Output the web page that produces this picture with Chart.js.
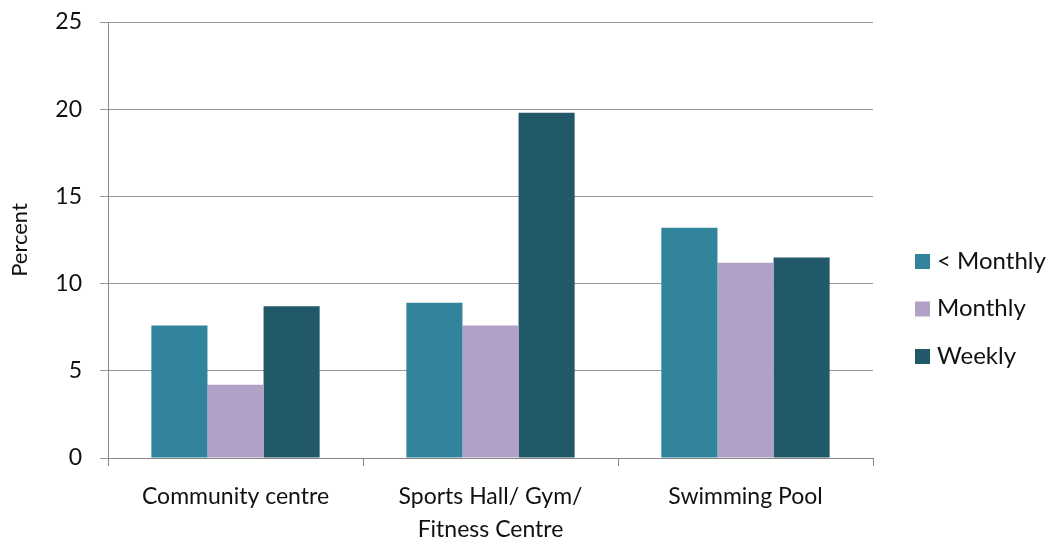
<!DOCTYPE html>
<html>
<head>
<meta charset="utf-8">
<script src="https://cdn.jsdelivr.net/npm/chart.js@4"></script>
<style>
  html, body { margin: 0; padding: 0; background: #fff; }
  #wrap { width: 1052px; height: 540px; }
</style>
</head>
<body>
<div id="wrap"><canvas id="chart1"></canvas></div>
<script>
const categories = ['Community centre', ['Sports Hall/ Gym/', 'Fitness Centre'], 'Swimming Pool'];
const lessMonthly = [7.6, 8.9, 13.2];
const monthly = [4.2, 7.6, 11.2];
const weekly = [8.7, 19.8, 11.5];
const yTicks = [0, 5, 10, 15, 20, 25];

const font = 'Lato, "Liberation Sans", sans-serif';

// legend drawn on the right, like the original
const sideLegend = {
    id: 'sideLegend',
    afterDraw(chart) {
        const c = chart.ctx;
        c.save();
        c.font = '24px ' + font;
        c.textBaseline = 'middle';
        chart.data.datasets.forEach((ds, i) => {
            const y = 261 + i * 47.5;
            c.fillStyle = ds.backgroundColor;
            c.fillRect(915, y - 7, 15, 15);
            c.fillStyle = '#111';
            c.fillText(ds.label, 937, y);
        });
        c.restore();
    }
};

const ctx1 = document.getElementById('chart1').getContext('2d');
const chart1 = new Chart(ctx1, {
    type: 'bar',
    data: {
        labels: categories,
        datasets: [
            { label: '< Monthly', data: lessMonthly, backgroundColor: '#31849B' },
            { label: 'Monthly', data: monthly, backgroundColor: '#B2A1C7' },
            { label: 'Weekly', data: weekly, backgroundColor: '#215968' }
        ]
    },
    options: {
        responsive: true,
        maintainAspectRatio: false,
        animation: false,
        datasets: {
            bar: { barPercentage: 1, categoryPercentage: 0.66 }
        },
        layout: { padding: { top: 22, right: 179, left: 0, bottom: 0 } },
        plugins: {
            legend: { display: false },
            tooltip: { enabled: false }
        },
        scales: {
            x: {
                afterFit(axis) {
                    axis.height = 82;
                    axis.paddingLeft = 0;
                    axis.paddingRight = 0;
                },
                grid: {
                    display: true,
                    offset: true,
                    drawOnChartArea: false,
                    drawTicks: true,
                    tickLength: 8,
                    color: '#888'
                },
                border: { color: '#888', width: 1 },
                ticks: {
                    color: '#111',
                    font: { family: font, size: 23, lineHeight: 1.45 },
                    padding: 14,
                    maxRotation: 0
                }
            },
            y: {
                min: 0,
                max: 25,
                afterBuildTicks(axis) {
                    axis.ticks = yTicks.map(v => ({ value: v }));
                },
                afterFit(axis) {
                    axis.width = 108;
                    axis.paddingTop = 0;
                    axis.paddingBottom = 0;
                },
                grid: {
                    color: '#999',
                    tickLength: 8
                },
                border: { color: '#888', width: 1 },
                ticks: {
                    color: '#111',
                    font: { family: font, size: 23 },
                    padding: 18
                },
                title: {
                    display: true,
                    text: 'Percent',
                    color: '#111',
                    font: { family: font, size: 22 },
                    padding: { top: 7, bottom: 0 }
                }
            }
        }
    },
    plugins: [sideLegend]
});
</script>
</body>
</html>
